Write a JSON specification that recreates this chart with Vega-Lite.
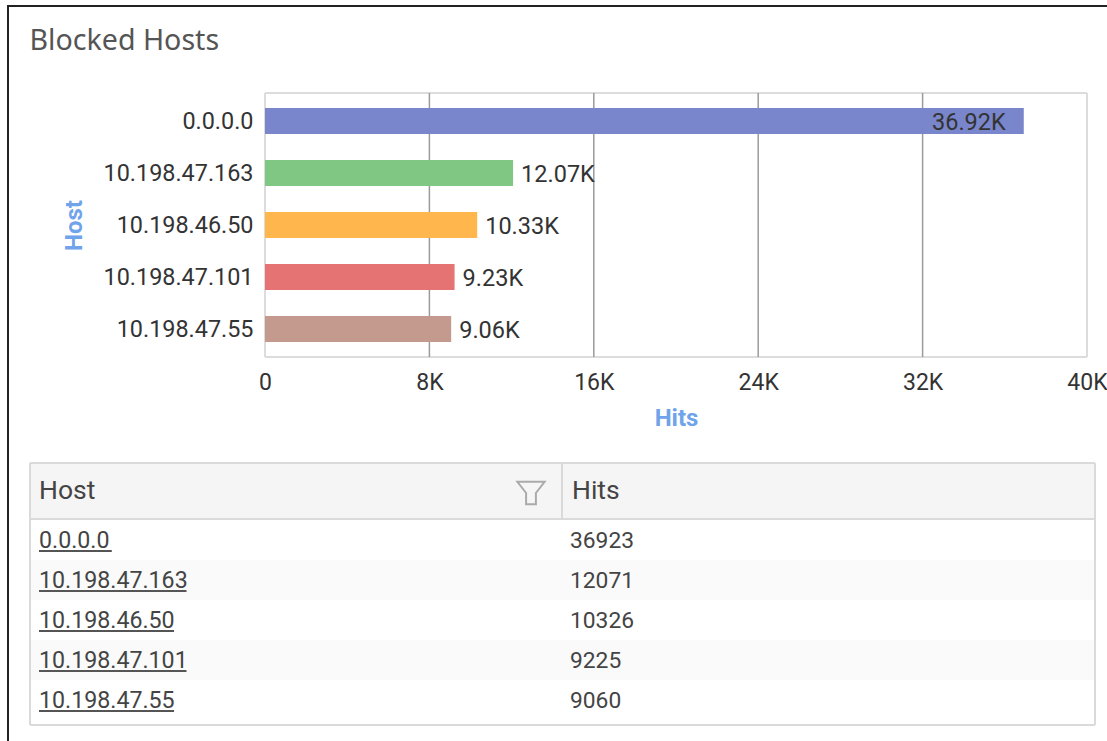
{
"$schema":"https://vega.github.io/schema/vega-lite/v6.json",
"width":1110,"height":745,
"autosize":{"type":"none"},
"padding":{"left":8,"top":6,"right":0,"bottom":0},
"background":"#ffffff",
"view":{"stroke":"#222222","strokeWidth":2,"fill":"#ffffff"},
"title":{"text":"Blocked Hosts","anchor":"start","frame":"group","dx":21.5,"offset":-50,"fontSize":28.6,"fontWeight":"normal","font":"Noto Sans","color":"#555555"},
"datasets":{
"hosts":[
{"Host":"0.0.0.0","Hits":36923,"label":"36.92K"},
{"Host":"10.198.47.163","Hits":12071,"label":"12.07K"},
{"Host":"10.198.46.50","Hits":10326,"label":"10.33K"},
{"Host":"10.198.47.101","Hits":9225,"label":"9.23K"},
{"Host":"10.198.47.55","Hits":9060,"label":"9.06K"}],
"ticks":[{"tick":8000},{"tick":16000},{"tick":24000},{"tick":32000}],
"plotEdges":[{"tick":0},{"tick":40000}],
"plotLevels":[{"level":0,"span":40000},{"level":1,"span":40000}],
"tableEdges":[{"at":0},{"at":1065}],
"tableSplit":[{"at":532}],
"tableLevels":[{"level":0,"span":1065},{"level":206,"span":1065},{"level":262,"span":1065}],
"tableHead":[{"level":234.5,"span":1065}],
"one":[{"part":"frame"}]
},
"resolve":{"scale":{"x":"independent","y":"independent","color":"independent"},"axis":{"x":"independent","y":"independent"}},
"layer":[
{"data":{"name":"plotEdges"},"mark":{"type":"rule","color":"#dcdcdc","strokeWidth":2},
 "encoding":{
  "x":{"field":"tick","type":"quantitative","scale":{"domain":[0,40000],"range":[257,1079]},"axis":null},
  "y":{"datum":0,"type":"quantitative","scale":{"domain":[0,1],"range":[351,87]},"axis":null},
  "y2":{"datum":1}}},
{"data":{"name":"plotLevels"},"mark":{"type":"bar","color":"#dcdcdc","size":2,"orient":"horizontal"},
 "encoding":{
  "y":{"field":"level","type":"quantitative","scale":{"domain":[0,1],"range":[351,87],"padding":0},"axis":null},
  "x":{"field":"span","type":"quantitative","stack":null,"scale":{"domain":[0,40000],"range":[257,1079]},"axis":null}}},
{"data":{"name":"ticks"},"mark":{"type":"rule","color":"#9b9b9b","strokeWidth":1.5},
 "encoding":{
  "x":{"field":"tick","type":"quantitative","scale":{"domain":[0,40000],"range":[257,1079]},"axis":null},
  "y":{"datum":0,"type":"quantitative","scale":{"domain":[0,1],"range":[351,87]},"axis":null},
  "y2":{"datum":1}}},
{"data":{"name":"hosts"},"mark":{"type":"bar","size":26,"cornerRadius":0},
 "encoding":{
  "x":{"field":"Hits","type":"quantitative","scale":{"domain":[0,40000],"range":[257,1079]},
   "axis":{"orient":"bottom","offset":-394,"values":[0,8000,16000,24000,32000,40000],"labelExpr":"datum.value==0?'0':(datum.value/1000)+'K'","grid":false,"domain":false,"ticks":false,"labelPadding":14,"labelFont":"Roboto","labelFontSize":23,"labelColor":"#333333","labelFlush":false,"labelOverlap":false,"title":"Hits","titleFont":"Roboto","titleFontSize":24,"titleFontWeight":"bold","titleColor":"#6fa3ea","titlePadding":12}},
  "y":{"field":"Host","type":"nominal","sort":null,"scale":{"domain":["0.0.0.0","10.198.47.163","10.198.46.50","10.198.47.101","10.198.47.55"],"range":[89,349],"paddingInner":0,"paddingOuter":0},
   "axis":{"orient":"left","offset":-257,"domain":false,"ticks":false,"grid":false,"labelPadding":12,"labelOffset":1,"labelFont":"Roboto","labelFontSize":23.4,"labelColor":"#333333","labelLimit":300,"labelOverlap":false,"title":"Host","titleFont":"Roboto","titleFontSize":24,"titleFontWeight":"bold","titleColor":"#6fa3ea","titlePadding":17}},
  "color":{"field":"Host","type":"nominal","sort":null,"legend":null,"scale":{"domain":["0.0.0.0","10.198.47.163","10.198.46.50","10.198.47.101","10.198.47.55"],"range":["#7986cb","#81c784","#ffb74d","#e57373","#c49a8e"]}}}},
{"data":{"name":"hosts"},"transform":[{"filter":"datum.Hits<30000"}],"mark":{"type":"text","align":"left","baseline":"middle","dx":8,"dy":2,"font":"Roboto","fontSize":23.5,"color":"#333333"},
 "encoding":{
  "x":{"field":"Hits","type":"quantitative","scale":{"domain":[0,40000],"range":[257,1079]},"axis":null},
  "y":{"field":"Host","type":"nominal","sort":null,"scale":{"domain":["0.0.0.0","10.198.47.163","10.198.46.50","10.198.47.101","10.198.47.55"],"range":[89,349],"paddingInner":0,"paddingOuter":0},"axis":null},
  "text":{"field":"label"}}},
{"data":{"name":"hosts"},"transform":[{"filter":"datum.Hits>=30000"}],"mark":{"type":"text","align":"right","baseline":"middle","dx":-18,"dy":2,"font":"Roboto","fontSize":23.5,"color":"#333333"},
 "encoding":{
  "x":{"field":"Hits","type":"quantitative","scale":{"domain":[0,40000],"range":[257,1079]},"axis":null},
  "y":{"field":"Host","type":"nominal","sort":null,"scale":{"domain":["0.0.0.0","10.198.47.163","10.198.46.50","10.198.47.101","10.198.47.55"],"range":[89,349],"paddingInner":0,"paddingOuter":0},"axis":null},
  "text":{"field":"label"}}},
{"data":{"name":"tableHead"},"mark":{"type":"bar","color":"#f5f5f5","size":55,"orient":"horizontal"},
 "encoding":{
  "x":{"field":"span","type":"quantitative","stack":null,"scale":{"domain":[0,1065],"range":[22,1087]},"axis":null},
  "y":{"field":"level","type":"quantitative","scale":{"domain":[0,262],"range":[719,457],"padding":0},"axis":null}}},
{"data":{"name":"hosts"},"transform":[{"filter":"datum.Host=='10.198.47.163'||datum.Host=='10.198.47.101'"},{"calculate":"1065","as":"span"}],"mark":{"type":"bar","color":"#fafafa","size":40,"orient":"horizontal"},
 "encoding":{
  "x":{"field":"span","type":"quantitative","stack":null,"scale":{"domain":[0,1065],"range":[22,1087]},"axis":null},
  "y":{"field":"Host","type":"nominal","sort":null,"scale":{"domain":["0.0.0.0","10.198.47.163","10.198.46.50","10.198.47.101","10.198.47.55"],"range":[514,714],"paddingInner":0,"paddingOuter":0},"axis":null}}},
{"data":{"name":"tableLevels"},"mark":{"type":"bar","color":"#dadada","size":2,"orient":"horizontal"},
 "encoding":{
  "x":{"field":"span","type":"quantitative","stack":null,"scale":{"domain":[0,1065],"range":[22,1087]},"axis":null},
  "y":{"field":"level","type":"quantitative","scale":{"domain":[0,262],"range":[719,457],"padding":0},"axis":null}}},
{"data":{"name":"tableEdges"},"mark":{"type":"rule","color":"#dadada","strokeWidth":2},
 "encoding":{
  "x":{"field":"at","type":"quantitative","scale":{"domain":[0,1065],"range":[22,1087]},"axis":null},
  "y":{"datum":0,"type":"quantitative","scale":{"domain":[0,262],"range":[719,457]},"axis":null},
  "y2":{"datum":262}}},
{"data":{"name":"tableSplit"},"mark":{"type":"rule","color":"#dadada","strokeWidth":2},
 "encoding":{
  "x":{"field":"at","type":"quantitative","scale":{"domain":[0,1065],"range":[22,1087]},"axis":null},
  "y":{"datum":206,"type":"quantitative","scale":{"domain":[0,262],"range":[719,457]},"axis":null},
  "y2":{"datum":262}}},
{"data":{"values":[{"col":"Host","at":9},{"col":"Hits","at":542}]},"mark":{"type":"text","align":"left","baseline":"middle","font":"Roboto","fontSize":26.5,"color":"#444444"},
 "encoding":{
  "x":{"field":"at","type":"quantitative","scale":{"domain":[0,1065],"range":[22,1087]},"axis":null},
  "y":{"datum":234,"type":"quantitative","scale":{"domain":[0,262],"range":[719,457]},"axis":null},
  "text":{"field":"col"}}},
{"data":{"name":"one"},"mark":{"type":"point","filled":false,"stroke":"#aaaaaa","strokeWidth":2,"opacity":1,"size":2965,"shape":"M-0.5,-0.41 L0.5,-0.41 L0.18,0 L0.18,0.41 L-0.18,0.41 L-0.18,0 Z"},
 "encoding":{
  "x":{"datum":501,"type":"quantitative","scale":{"domain":[0,1065],"range":[22,1087]},"axis":null},
  "y":{"datum":232,"type":"quantitative","scale":{"domain":[0,262],"range":[719,457]},"axis":null}}},
{"data":{"name":"hosts"},"mark":{"type":"text","align":"left","baseline":"middle","dy":1,"font":"Roboto","fontSize":23.2,"color":"#444444"},
 "encoding":{
  "x":{"datum":9,"type":"quantitative","scale":{"domain":[0,1065],"range":[22,1087]},"axis":null},
  "y":{"field":"Host","type":"nominal","sort":null,"scale":{"domain":["0.0.0.0","10.198.47.163","10.198.46.50","10.198.47.101","10.198.47.55"],"range":[514,714],"paddingInner":0,"paddingOuter":0},"axis":null},
  "text":{"field":"Host"}}},
{"data":{"name":"hosts"},"mark":{"type":"text","align":"left","baseline":"middle","dy":1,"font":"Roboto","fontSize":22.8,"color":"#444444"},
 "encoding":{
  "x":{"datum":540,"type":"quantitative","scale":{"domain":[0,1065],"range":[22,1087]},"axis":null},
  "y":{"field":"Host","type":"nominal","sort":null,"scale":{"domain":["0.0.0.0","10.198.47.163","10.198.46.50","10.198.47.101","10.198.47.55"],"range":[514,714],"paddingInner":0,"paddingOuter":0},"axis":null},
  "text":{"field":"Hits"}}},
{"data":{"name":"hosts"},"transform":[{"calculate":"(length(datum.Host)-3)*12.45+23","as":"underlineLength"}],"mark":{"type":"bar","color":"#555555","size":2,"yOffset":11,"orient":"horizontal"},
 "encoding":{
  "x":{"field":"underlineLength","type":"quantitative","stack":null,"scale":{"domain":[0,1065],"range":[31,1096]},"axis":null},
  "y":{"field":"Host","type":"nominal","sort":null,"scale":{"domain":["0.0.0.0","10.198.47.163","10.198.46.50","10.198.47.101","10.198.47.55"],"range":[514,714],"paddingInner":0,"paddingOuter":0},"axis":null}}}
]
}
